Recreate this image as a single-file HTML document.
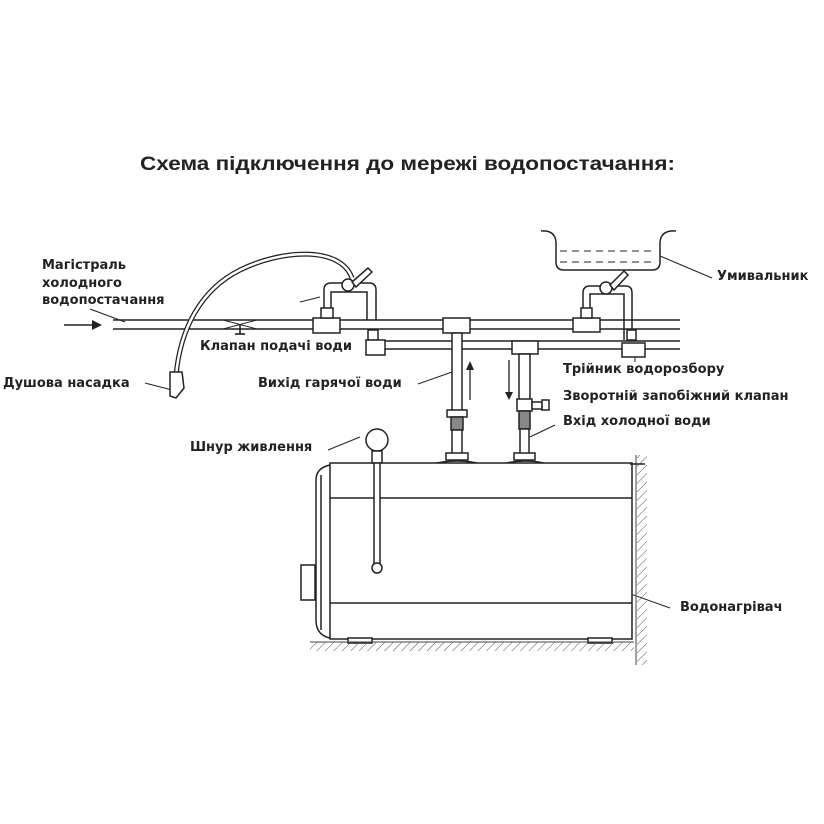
<!DOCTYPE html>
<html><head><meta charset="utf-8"><style>
html,body{margin:0;padding:0;background:#fff;}
svg{display:block;}
text{font-family:"DejaVu Sans","Liberation Sans",sans-serif;font-weight:bold;fill:#222;}
</style></head><body>
<svg width="824" height="824" viewBox="0 0 824 824" xmlns="http://www.w3.org/2000/svg">
<defs>
<pattern id="h" width="6" height="6" patternUnits="userSpaceOnUse" patternTransform="rotate(45)">
<line x1="0" y1="0" x2="0" y2="6" stroke="#555" stroke-width="1"/></pattern>
</defs>
<text x="140" y="170" font-size="19" textLength="535" lengthAdjust="spacingAndGlyphs" style="font-family:'Liberation Sans',sans-serif">Схема підключення до мережі водопостачання:</text>

<g stroke="#222" fill="none" stroke-width="1.6">
<line x1="113" y1="320" x2="680" y2="320"/>
<line x1="113" y1="329" x2="680" y2="329"/>
<line x1="64" y1="325" x2="100" y2="325"/>
<line x1="380" y1="341" x2="680" y2="341"/>
<line x1="380" y1="349" x2="680" y2="349"/>
<path d="M223 320 L257 329 M223 329 L257 320" stroke-width="1"/>
<line x1="240" y1="325" x2="240" y2="334"/><line x1="235" y1="334" x2="245" y2="334"/>
<line x1="90" y1="309" x2="125" y2="322" stroke-width="1"/>
<line x1="145" y1="383" x2="172" y2="390" stroke-width="1"/>
<line x1="300" y1="302" x2="320" y2="297" stroke-width="1"/>
<line x1="328" y1="450" x2="360" y2="437" stroke-width="1"/>
<line x1="418" y1="384" x2="452" y2="372" stroke-width="1"/>
<line x1="660" y1="256" x2="712" y2="278" stroke-width="1"/>
<line x1="635" y1="352" x2="635" y2="362" stroke-width="1"/>
<line x1="530" y1="437" x2="555" y2="425" stroke-width="1"/>
<line x1="600" y1="583" x2="670" y2="608" stroke-width="1"/>
</g>
<polygon points="92,320 102,325 92,330" fill="#222"/>

<g stroke="#222" fill="#fff" stroke-width="1.5">
<rect x="313" y="318" width="27" height="15"/>
<rect x="321" y="308" width="12" height="10"/>
<path d="M324 308 V290 Q324 283 331 283 H369 Q376 283 376 290 V320" fill="none"/>
<path d="M331 308 V292 H367 V320" fill="none"/>
<circle cx="348" cy="285" r="6"/>
<path d="M352 282 L368 268 L372 272 L356 287 Z"/>
<rect x="368" y="330" width="10" height="10"/>
<path d="M366 340 H385 V355 H366 Z"/>
<rect x="443" y="318" width="27" height="15"/>
<rect x="452" y="333" width="10" height="78"/>
<rect x="447" y="410" width="20" height="7"/>
<rect x="451" y="417" width="12" height="13" fill="#888"/>
<rect x="452" y="430" width="10" height="24"/>
<rect x="446" y="453" width="22" height="7"/>
<path d="M432 464 Q457 458 482 464" fill="none"/>
<rect x="512" y="341" width="26" height="13"/>
<rect x="519" y="354" width="11" height="46"/>
<rect x="517" y="399" width="15" height="12"/>
<rect x="532" y="402" width="10" height="7"/>
<rect x="542" y="400" width="7" height="10"/>
<rect x="519" y="411" width="11" height="18" fill="#888"/>
<rect x="520" y="429" width="9" height="25"/>
<rect x="514" y="453" width="21" height="7"/>
<path d="M502 464 Q525 458 548 464" fill="none"/>
<rect x="573" y="318" width="27" height="14"/>
<rect x="581" y="308" width="11" height="10"/>
<path d="M583 308 V293 Q583 286 590 286 H626 Q632 286 632 293 V340" fill="none"/>
<path d="M590 308 V294 H624 V340" fill="none"/>
<circle cx="606" cy="288" r="6"/>
<path d="M610 285 L624 271 L628 275 L614 290 Z"/>
<rect x="627" y="330" width="9" height="10"/>
<rect x="622" y="343" width="23" height="14"/>
<path d="M541 231 Q555 230 556 242 V262 Q556 270 564 270 H652 Q660 270 660 262 V242 Q661 230 676 231" fill="none"/>
<path d="M560 251 H656 M560 262 H656" stroke-dasharray="7,5" fill="none" stroke-width="1"/>
<path d="M176 376 C180 330 200 290 240 270 C280 250 340 245 352 278" fill="none" stroke-width="5"/>
<path d="M176 376 C180 330 200 290 240 270 C280 250 340 245 352 278" fill="none" stroke="#fff" stroke-width="2.5"/>
<path d="M170 372 L182 372 L184 388 L176 398 L170 396 Z"/>
<rect x="330" y="463" width="302" height="176"/>
<line x1="330" y1="498" x2="632" y2="498"/>
<line x1="330" y1="603" x2="632" y2="603"/>
<path d="M330 465 Q316 468 316 480 V620 Q316 635 330 638" fill="none"/>
<path d="M321 475 V630" fill="none"/>
<rect x="301" y="565" width="14" height="35"/>
<rect x="348" y="638" width="24" height="5"/>
<rect x="588" y="638" width="24" height="5"/>
<circle cx="377" cy="440" r="11"/>
<rect x="372" y="451" width="10" height="12"/>
<rect x="374" y="463" width="6" height="102"/>
<circle cx="377" cy="568" r="5"/>
</g>
<g stroke="#222" stroke-width="1.3">
<line x1="470" y1="400" x2="470" y2="368"/>
<line x1="509" y1="360" x2="509" y2="393"/>
</g>
<polygon points="466,370 470,361 474,370" fill="#222"/>
<polygon points="505,392 509,400 513,392" fill="#222"/>
<rect x="310" y="642" width="324" height="9" fill="url(#h)"/>
<line x1="310" y1="642" x2="634" y2="642" stroke="#444"/>
<rect x="637" y="455" width="10" height="210" fill="url(#h)"/>
<line x1="636" y1="455" x2="636" y2="665" stroke="#444"/>
<line x1="630" y1="464" x2="645" y2="464" stroke="#222" stroke-width="1.5"/>

<g font-size="13">
<text x="42" y="269">Магістраль</text>
<text x="42" y="287">холодного</text>
<text x="42" y="304">водопостачання</text>
<text x="200" y="350">Клапан подачі води</text>
<text x="3" y="387">Душова насадка</text>
<text x="258" y="387">Вихід гарячої води</text>
<text x="190" y="451">Шнур живлення</text>
<text x="717" y="280">Умивальник</text>
<text x="563" y="373">Трійник водорозбору</text>
<text x="563" y="400">Зворотній запобіжний клапан</text>
<text x="563" y="425">Вхід холодної води</text>
<text x="680" y="611">Водонагрівач</text>
</g>
</svg>
</body></html>
